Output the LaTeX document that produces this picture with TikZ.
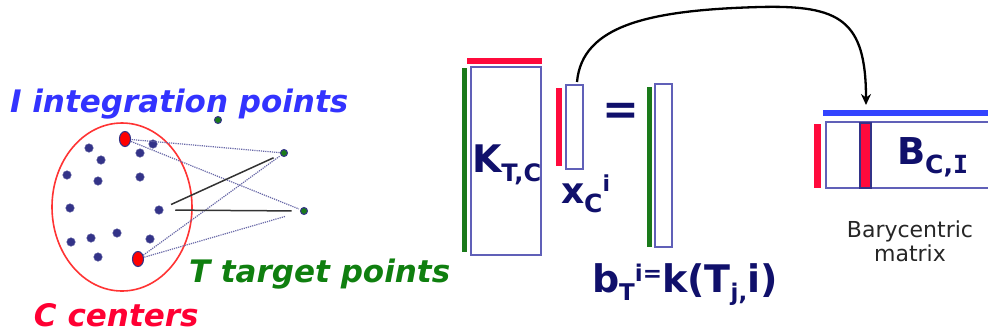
\documentclass[tikz,border=0pt]{standalone}
\usepackage{fontspec}
\setmainfont{DejaVu Sans}[BoldFont={DejaVu Sans Bold},ItalicFont={DejaVu Sans Oblique},BoldItalicFont={DejaVu Sans Bold Oblique}]
\newfontfamily\serifI{DejaVu Sans Mono Bold}
\usetikzlibrary{arrows.meta,shapes.geometric}
\definecolor{ublue}{HTML}{3333FF}
\definecolor{tgreen}{HTML}{0F7F0F}
\definecolor{cred}{HTML}{FF0033}
\definecolor{navy}{HTML}{10106B}
\definecolor{boxblue}{HTML}{6060B8}
\definecolor{barred}{HTML}{FF0A3C}
\definecolor{bargreen}{HTML}{1A7A1A}
\definecolor{barblue}{HTML}{3344FF}
\definecolor{dotnavy}{HTML}{333388}
\definecolor{ellred}{HTML}{FF3333}
\newcommand{\fs}[1]{\fontsize{#1}{#1}\selectfont}
\begin{document}
\begin{tikzpicture}[x=1pt,y=-1pt,
  every node/.style={inner sep=0pt,outer sep=0pt},
  dot/.style={circle,fill=dotnavy,draw=dotnavy!80,line width=0.5pt,minimum size=8.5pt},
  reddot/.style={ellipse,fill=red,draw=dotnavy,line width=1.1pt,minimum width=11pt,minimum height=15pt},
  gdot/.style={circle,fill=bargreen,draw=dotnavy,line width=1pt,minimum size=7pt},
  dotline/.style={draw=dotnavy!75,densely dotted,line width=1.2pt},
  solidline/.style={draw=black!80,line width=1.5pt},
  mbox/.style={draw=boxblue,line width=1.4pt,rectangle},
  colbar/.style={rectangle,draw=none},
  bigtext/.style={anchor=base west,font=\bfseries\itshape\fs{31}},
  mattext/.style={anchor=base west,text=navy,font=\bfseries}
]
\useasboundingbox (0,0) rectangle (988,333);
% ---------- left: points ----------
\draw[ellred,line width=1.6pt] (122,207) ellipse [x radius=70,y radius=84];
\node[dot] (d1) at (89,148) {};
\node[dot] (d2) at (101,160) {};
\node[dot] (d3) at (140,153) {};
\node[dot] (d4) at (153,144) {};
\node[dot] (d5) at (67,175) {};
\node[dot] (d6) at (98,181) {};
\node[dot] (d7) at (140,177) {};
\node[dot] (d8) at (70,208) {};
\node[dot] (d9) at (159,210) {};
\node[dot] (d10) at (71,242) {};
\node[dot] (d11) at (91,238) {};
\node[dot] (d12) at (117,233) {};
\node[dot] (d13) at (150,239) {};
\node[dot] (d14) at (98,257) {};
\node[gdot] (g0) at (218,120) {};
\node[gdot] (g1) at (284,153) {};
\node[gdot] (g2) at (304,211) {};
\coordinate (r1c) at (125,139);
\coordinate (r2c) at (138,259);
\draw[dotline] (r1c) -- (g1);
\draw[dotline,shorten >=2pt] (r1c) -- (g2);
\draw[dotline,shorten >=2pt] (r2c) -- (g1);
\draw[dotline,shorten >=16pt] (r2c) -- (g2);
\node[reddot] (r1) at (r1c) {};
\node[reddot] (r2) at (r2c) {};
\draw[solidline,shorten <=9pt,shorten >=8pt] (d9) -- (g1);
\draw[solidline,shorten <=12pt,shorten >=9pt] (d9) -- (g2);
\node[bigtext,text=ublue] (tI) at (10,112) {I integration points};
\node[bigtext,text=tgreen] (tT) at (189,282) {T target points};
\node[bigtext,text=cred] (tC) at (34,326) {C centers};
% ---------- middle: K x = b ----------
\node[colbar,fill=bargreen,minimum width=5pt,minimum height=184pt] (kg) at (464.5,160) {};
\node[colbar,fill=barred,minimum width=75pt,minimum height=6pt] (kr) at (504.5,61) {};
\node[mbox,minimum width=70pt,minimum height=188pt] (K) at (506,161) {};
\node[mattext] (Kt) at (472,172) {\fs{38}K\raisebox{-9pt}{\fs{24}T,C}};
\node[colbar,fill=barred,minimum width=6pt,minimum height=78pt] (xr) at (559,127) {};
\node[mbox,minimum width=17pt,minimum height=84pt] (X) at (574.5,127) {};
\node[mattext] (Xt) at (561,203) {\fs{36}x\raisebox{-9pt}{\fs{25}C}\raisebox{12pt}{\fs{22}i}};
\node[text=navy,font=\bfseries\fs{44}] (eq) at (621,114) {=};
\node[colbar,fill=bargreen,minimum width=5pt,minimum height=160pt] (bg) at (649.5,167) {};
\node[mbox,minimum width=17pt,minimum height=163pt] (Bv) at (663.5,165.5) {};
\node[mattext] (bt) at (592,292) {\fs{38}b\raisebox{-8pt}{\fs{23}T}\raisebox{11pt}{\fs{23}i=}k(T\raisebox{-8pt}{\fs{23}j,}i)};
% ---------- right: B ----------
\node[colbar,fill=barblue,minimum width=165pt,minimum height=6pt] (bb) at (905.5,113) {};
\node[colbar,fill=barred,minimum width=7pt,minimum height=64pt] (br) at (817.5,156) {};
\node[mbox,minimum width=166pt,minimum height=66pt] (B) at (909,155) {};
\node[rectangle,fill=barred,draw=dotnavy,line width=1.1pt,minimum width=11pt,minimum height=65pt] (bcol) at (865.5,155.5) {};
\node[mattext] (Bt) at (897,164) {\fs{37}B\raisebox{-9pt}{\fs{25}C,{\serifI I}}};
\node[align=center,text=black!85,font=\fs{22}] (bary) at (910,241) {Barycentric\\[2pt]matrix};
% ---------- arrow ----------
\coordinate (arrowend) at (866,105);
\draw[line width=2.3pt,-{Stealth[length=11pt,width=10pt]}] ([xshift=2.5pt,yshift=3pt]X.north) .. controls (582,25) and (650,10) .. (760,7) .. controls (840,5) and (866,20) .. (arrowend);
\end{tikzpicture}
\end{document}
